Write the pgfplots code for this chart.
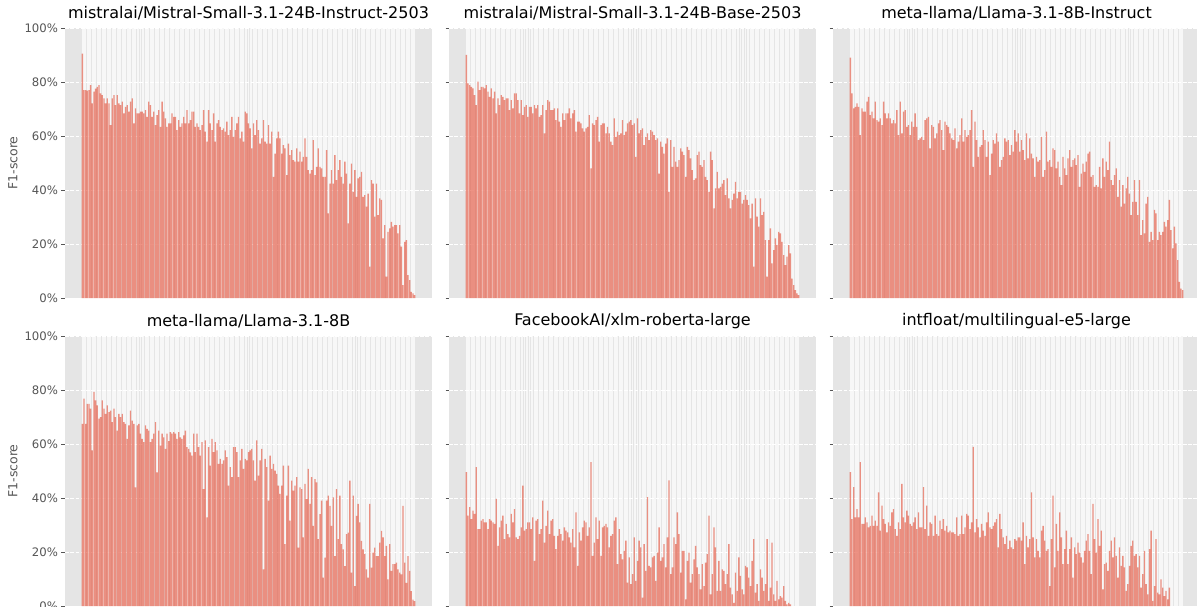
\documentclass[border=0pt]{standalone}
\usepackage{fontspec}
\setmainfont{DejaVu Sans}
\usepackage{pgfplots}
\usepackage{pgfplotstable}
\pgfplotsset{compat=1.18}
\definecolor{ggred}{HTML}{E24A33}
\definecolor{ggbg}{HTML}{E5E5E5}
\definecolor{ggtext}{HTML}{555555}

\pgfplotstableread[row sep=\\]{v\\
90.5\\ 77.0\\ 77.0\\ 76.8\\ 77.0\\ 78.8\\ 72.1\\ 76.4\\ 77.5\\ 78.2\\ 78.8\\ 75.8\\ 75.1\\ 73.9\\ 72.1\\ 73.9\\ 72.1\\ 64.0\\ 73.9\\ 75.1\\ 71.4\\ 75.1\\ 72.1\\ 71.4\\ 72.7\\ 68.4\\ 70.8\\ 71.4\\ 69.0\\ 72.7\\ 73.9\\ 64.7\\ 70.2\\ 68.4\\ 68.4\\ 69.0\\ 69.0\\ 68.4\\ 69.6\\ 67.1\\ 72.7\\ 71.4\\ 67.1\\ 69.0\\ 64.0\\ 67.7\\ 69.6\\ 63.4\\ 72.7\\ 69.0\\ 66.5\\ 63.4\\ 64.7\\ 64.7\\ 68.4\\ 67.1\\ 67.1\\ 62.2\\ 65.9\\ 63.4\\ 64.7\\ 67.1\\ 64.7\\ 69.6\\ 64.7\\ 65.9\\ 69.0\\ 69.0\\ 63.4\\ 64.7\\ 63.4\\ 62.2\\ 64.0\\ 69.6\\ 61.6\\ 57.9\\ 69.6\\ 64.7\\ 62.2\\ 68.4\\ 57.9\\ 64.7\\ 65.9\\ 63.4\\ 62.2\\ 62.8\\ 61.6\\ 65.3\\ 60.3\\ 62.2\\ 67.1\\ 59.7\\ 62.2\\ 64.7\\ 67.1\\ 59.1\\ 61.6\\ 57.9\\ 69.0\\ 68.4\\ 64.7\\ 62.8\\ 55.4\\ 64.7\\ 60.3\\ 65.9\\ 62.2\\ 57.2\\ 59.1\\ 65.9\\ 57.9\\ 57.2\\ 64.0\\ 57.2\\ 61.6\\ 44.9\\ 53.5\\ 59.1\\ 61.6\\ 59.1\\ 53.5\\ 56.6\\ 55.4\\ 45.5\\ 57.2\\ 52.9\\ 54.8\\ 51.1\\ 50.5\\ 55.4\\ 50.5\\ 54.2\\ 50.5\\ 52.3\\ 59.1\\ 52.3\\ 47.4\\ 46.1\\ 47.4\\ 58.5\\ 45.5\\ 48.6\\ 55.4\\ 48.6\\ 48.0\\ 44.9\\ 44.9\\ 54.8\\ 31.3\\ 42.4\\ 47.4\\ 42.4\\ 52.9\\ 43.7\\ 47.4\\ 51.1\\ 44.9\\ 42.4\\ 50.5\\ 46.1\\ 27.6\\ 42.4\\ 49.8\\ 39.3\\ 47.4\\ 37.5\\ 44.3\\ 44.9\\ 46.7\\ 37.5\\ 38.1\\ 33.8\\ 38.7\\ 11.6\\ 43.7\\ 42.4\\ 30.1\\ 42.4\\ 30.7\\ 36.9\\ 36.3\\ 22.1\\ 27.0\\ 7.9\\ 24.5\\ 25.8\\ 28.2\\ 26.4\\ 27.0\\ 27.0\\ 23.9\\ 27.0\\ 19.0\\ 4.8\\ 20.8\\ 21.4\\ 8.5\\ 6.6\\ 2.3\\ 1.7\\ 1.1\\
}\dataA

\pgfplotstableread[row sep=\\]{v\\
90.0\\ 79.5\\ 78.8\\ 78.2\\ 77.6\\ 75.1\\ 71.4\\ 80.1\\ 77.0\\ 78.2\\ 78.2\\ 77.6\\ 78.8\\ 76.4\\ 74.5\\ 77.6\\ 73.9\\ 76.4\\ 68.4\\ 73.9\\ 71.4\\ 75.1\\ 74.5\\ 73.3\\ 73.9\\ 73.9\\ 69.6\\ 73.3\\ 70.2\\ 75.8\\ 75.8\\ 73.3\\ 68.4\\ 73.3\\ 67.7\\ 70.8\\ 71.4\\ 67.1\\ 70.8\\ 70.8\\ 68.4\\ 71.4\\ 70.2\\ 71.4\\ 67.1\\ 67.7\\ 71.4\\ 61.0\\ 69.6\\ 73.3\\ 72.7\\ 69.6\\ 69.6\\ 70.2\\ 65.9\\ 70.2\\ 65.3\\ 63.4\\ 68.4\\ 65.9\\ 68.4\\ 68.4\\ 70.2\\ 66.5\\ 68.4\\ 69.6\\ 61.6\\ 65.3\\ 65.3\\ 64.7\\ 62.8\\ 61.6\\ 62.8\\ 63.4\\ 67.7\\ 48.0\\ 64.7\\ 64.0\\ 65.9\\ 67.1\\ 57.9\\ 64.0\\ 64.7\\ 64.7\\ 61.0\\ 63.4\\ 61.0\\ 57.9\\ 56.6\\ 66.5\\ 59.7\\ 61.6\\ 60.3\\ 61.0\\ 65.9\\ 60.3\\ 61.6\\ 64.7\\ 65.3\\ 65.9\\ 64.0\\ 64.7\\ 52.3\\ 66.5\\ 61.0\\ 62.2\\ 62.8\\ 56.6\\ 59.7\\ 61.0\\ 58.5\\ 62.2\\ 61.6\\ 60.3\\ 58.5\\ 59.1\\ 46.1\\ 57.9\\ 56.0\\ 53.5\\ 57.2\\ 59.1\\ 39.3\\ 58.5\\ 48.6\\ 56.0\\ 50.5\\ 48.6\\ 51.1\\ 55.4\\ 54.2\\ 52.9\\ 44.9\\ 56.0\\ 54.8\\ 51.7\\ 47.4\\ 43.7\\ 44.3\\ 52.9\\ 54.2\\ 49.2\\ 48.6\\ 51.1\\ 44.9\\ 43.7\\ 39.3\\ 54.2\\ 51.1\\ 33.2\\ 40.6\\ 46.7\\ 40.6\\ 41.2\\ 42.4\\ 43.7\\ 38.1\\ 44.3\\ 36.9\\ 33.2\\ 36.3\\ 38.7\\ 43.0\\ 36.9\\ 39.3\\ 39.3\\ 35.0\\ 36.3\\ 38.1\\ 36.3\\ 34.4\\ 29.5\\ 35.0\\ 11.6\\ 36.9\\ 30.1\\ 26.4\\ 36.9\\ 30.7\\ 31.9\\ 21.4\\ 7.9\\ 21.4\\ 25.8\\ 12.8\\ 17.7\\ 22.1\\ 19.6\\ 24.5\\ 23.9\\ 20.8\\ 15.9\\ 12.2\\ 15.3\\ 19.6\\ 16.5\\ 7.2\\ 4.8\\ 2.9\\ 1.7\\ 1.1\\
}\dataB

\pgfplotstableread[row sep=\\]{v\\
89.0\\ 75.8\\ 70.2\\ 70.8\\ 72.1\\ 70.8\\ 60.3\\ 70.2\\ 69.0\\ 69.0\\ 72.7\\ 74.5\\ 67.7\\ 69.0\\ 66.5\\ 72.7\\ 65.9\\ 65.3\\ 66.5\\ 64.0\\ 72.7\\ 68.4\\ 66.5\\ 68.4\\ 66.5\\ 64.7\\ 65.9\\ 64.7\\ 69.6\\ 60.3\\ 72.7\\ 61.0\\ 69.0\\ 69.6\\ 63.4\\ 64.0\\ 60.3\\ 65.3\\ 63.4\\ 68.4\\ 63.4\\ 58.5\\ 59.1\\ 59.7\\ 58.5\\ 65.9\\ 66.5\\ 67.1\\ 55.4\\ 64.0\\ 63.4\\ 59.1\\ 61.0\\ 64.7\\ 65.9\\ 62.2\\ 54.8\\ 65.3\\ 64.0\\ 63.4\\ 61.0\\ 59.1\\ 58.5\\ 62.8\\ 55.4\\ 57.9\\ 60.3\\ 66.5\\ 57.9\\ 62.2\\ 59.7\\ 60.3\\ 62.2\\ 69.6\\ 48.6\\ 65.3\\ 58.5\\ 52.3\\ 56.0\\ 56.6\\ 62.2\\ 58.5\\ 52.3\\ 57.9\\ 45.5\\ 53.5\\ 58.5\\ 57.2\\ 61.0\\ 57.9\\ 48.6\\ 51.1\\ 52.3\\ 59.1\\ 57.9\\ 58.5\\ 52.9\\ 56.6\\ 54.2\\ 62.2\\ 57.9\\ 61.0\\ 54.2\\ 58.5\\ 54.8\\ 51.1\\ 61.0\\ 51.7\\ 59.1\\ 53.5\\ 51.7\\ 44.9\\ 52.3\\ 50.5\\ 51.1\\ 59.7\\ 44.9\\ 47.4\\ 61.6\\ 50.5\\ 51.1\\ 48.6\\ 55.4\\ 54.8\\ 48.0\\ 50.5\\ 44.9\\ 41.8\\ 52.3\\ 48.0\\ 45.5\\ 51.7\\ 54.8\\ 48.6\\ 51.1\\ 51.7\\ 49.2\\ 52.9\\ 41.2\\ 46.1\\ 49.8\\ 46.7\\ 50.5\\ 53.5\\ 54.2\\ 44.9\\ 45.5\\ 41.2\\ 41.8\\ 41.2\\ 48.6\\ 40.6\\ 51.7\\ 44.9\\ 50.5\\ 47.4\\ 57.9\\ 43.7\\ 41.8\\ 45.5\\ 48.0\\ 37.5\\ 43.7\\ 33.8\\ 41.8\\ 35.0\\ 40.6\\ 44.9\\ 38.7\\ 30.7\\ 35.6\\ 43.7\\ 35.6\\ 30.7\\ 43.7\\ 23.3\\ 28.8\\ 23.9\\ 35.0\\ 37.5\\ 20.8\\ 24.5\\ 21.4\\ 32.6\\ 31.3\\ 21.4\\ 24.5\\ 23.3\\ 24.5\\ 28.2\\ 26.4\\ 28.8\\ 36.3\\ 25.1\\ 18.4\\ 26.4\\ 20.2\\ 14.0\\ 6.0\\ 3.5\\ 2.9\\
}\dataC

\pgfplotstableread[row sep=\\]{v\\
67.5\\ 76.8\\ 67.5\\ 74.9\\ 74.9\\ 73.1\\ 57.6\\ 79.3\\ 76.2\\ 74.3\\ 69.4\\ 70.0\\ 76.2\\ 73.1\\ 71.2\\ 74.3\\ 71.8\\ 72.4\\ 68.1\\ 73.1\\ 70.0\\ 65.0\\ 71.2\\ 70.0\\ 71.2\\ 68.1\\ 67.5\\ 61.9\\ 66.9\\ 72.4\\ 68.7\\ 67.5\\ 43.9\\ 66.9\\ 67.5\\ 63.8\\ 61.9\\ 60.7\\ 66.9\\ 65.6\\ 65.0\\ 60.7\\ 61.9\\ 63.8\\ 68.1\\ 49.5\\ 65.0\\ 59.4\\ 63.8\\ 62.5\\ 58.2\\ 63.8\\ 61.1\\ 64.4\\ 63.8\\ 64.4\\ 63.8\\ 61.9\\ 64.4\\ 62.5\\ 61.9\\ 63.2\\ 65.0\\ 58.8\\ 58.2\\ 56.9\\ 55.7\\ 63.8\\ 57.0\\ 63.8\\ 58.8\\ 55.7\\ 60.7\\ 43.3\\ 61.3\\ 32.8\\ 58.8\\ 52.0\\ 61.9\\ 57.0\\ 60.7\\ 57.6\\ 52.6\\ 54.5\\ 52.6\\ 53.9\\ 57.6\\ 55.1\\ 44.6\\ 51.4\\ 47.7\\ 58.8\\ 58.8\\ 57.0\\ 47.7\\ 53.9\\ 58.2\\ 50.8\\ 54.5\\ 53.9\\ 57.0\\ 57.6\\ 58.2\\ 53.9\\ 46.4\\ 61.3\\ 48.3\\ 53.9\\ 58.2\\ 13.6\\ 54.5\\ 51.4\\ 39.0\\ 55.7\\ 50.8\\ 52.6\\ 50.1\\ 48.9\\ 44.6\\ 41.5\\ 44.6\\ 52.0\\ 22.9\\ 40.9\\ 52.0\\ 31.6\\ 46.4\\ 42.7\\ 44.6\\ 47.7\\ 21.6\\ 43.9\\ 43.3\\ 25.4\\ 45.2\\ 39.6\\ 50.8\\ 37.8\\ 47.7\\ 29.7\\ 47.0\\ 45.8\\ 24.8\\ 34.0\\ 39.0\\ 10.5\\ 17.9\\ 39.0\\ 40.9\\ 37.1\\ 29.7\\ 40.2\\ 18.5\\ 43.3\\ 24.8\\ 40.9\\ 22.9\\ 21.0\\ 14.8\\ 26.6\\ 27.2\\ 46.4\\ 12.4\\ 40.9\\ 7.4\\ 33.4\\ 37.8\\ 31.0\\ 24.1\\ 21.0\\ 19.2\\ 13.6\\ 10.5\\ 37.8\\ 14.2\\ 19.8\\ 21.6\\ 18.5\\ 18.5\\ 23.5\\ 27.8\\ 25.4\\ 18.5\\ 22.3\\ 9.9\\ 22.9\\ 13.0\\ 15.5\\ 15.5\\ 16.1\\ 13.6\\ 12.4\\ 11.7\\ 37.1\\ 16.1\\ 8.6\\ 18.5\\ 13.0\\ 5.5\\ 2.4\\ 1.8\\
}\dataD

\pgfplotstableread[row sep=\\]{v\\
49.6\\ 33.5\\ 36.6\\ 32.2\\ 35.3\\ 34.1\\ 51.4\\ 28.5\\ 28.5\\ 31.6\\ 32.2\\ 31.0\\ 31.0\\ 28.5\\ 32.2\\ 31.6\\ 31.0\\ 30.4\\ 39.7\\ 22.3\\ 29.1\\ 31.6\\ 33.5\\ 24.8\\ 30.4\\ 26.6\\ 25.4\\ 34.1\\ 31.0\\ 35.9\\ 25.4\\ 24.8\\ 26.0\\ 29.1\\ 44.6\\ 27.9\\ 28.5\\ 31.0\\ 31.0\\ 28.5\\ 32.8\\ 16.7\\ 31.6\\ 32.2\\ 26.6\\ 28.5\\ 39.0\\ 23.5\\ 29.7\\ 35.3\\ 26.6\\ 31.6\\ 32.2\\ 26.0\\ 21.1\\ 26.0\\ 28.5\\ 26.6\\ 24.2\\ 29.1\\ 27.9\\ 27.3\\ 25.4\\ 23.5\\ 28.5\\ 21.7\\ 34.7\\ 14.9\\ 27.3\\ 24.2\\ 29.1\\ 31.6\\ 31.0\\ 26.0\\ 29.1\\ 53.3\\ 18.6\\ 23.5\\ 32.8\\ 24.8\\ 31.6\\ 18.6\\ 29.1\\ 29.7\\ 30.4\\ 29.1\\ 21.7\\ 26.0\\ 26.6\\ 31.6\\ 32.8\\ 15.5\\ 28.5\\ 19.2\\ 17.3\\ 20.4\\ 24.2\\ 8.7\\ 18.0\\ 8.1\\ 11.8\\ 25.4\\ 9.3\\ 16.7\\ 24.2\\ 21.7\\ 3.1\\ 22.9\\ 13.0\\ 40.3\\ 14.9\\ 14.3\\ 18.0\\ 18.6\\ 9.3\\ 19.8\\ 29.1\\ 16.7\\ 18.0\\ 22.9\\ 14.3\\ 25.4\\ 46.5\\ 11.8\\ 14.3\\ 25.4\\ 22.9\\ 34.7\\ 26.6\\ 12.4\\ 20.4\\ 20.4\\ 2.5\\ 16.7\\ 19.8\\ 8.7\\ 11.8\\ 17.3\\ 22.3\\ 14.3\\ 11.8\\ 6.2\\ 15.5\\ 7.4\\ 16.1\\ 19.2\\ 33.5\\ 4.3\\ 11.8\\ 29.1\\ 21.7\\ 5.6\\ 16.7\\ 5.6\\ 13.6\\ 13.0\\ 8.1\\ 11.8\\ 22.9\\ 6.8\\ 4.3\\ 1.2\\ 12.4\\ 5.6\\ 18.0\\ 11.2\\ 6.2\\ 4.3\\ 14.9\\ 14.3\\ 10.5\\ 7.4\\ 16.7\\ 24.8\\ 5.0\\ 8.1\\ 1.9\\ 13.6\\ 10.5\\ 5.6\\ 8.1\\ 24.8\\ 1.9\\ 6.8\\ 23.5\\ 4.3\\ 1.9\\ 9.3\\ 2.5\\ 3.7\\ 3.1\\ 7.4\\ 1.9\\ 0.6\\ 1.2\\ 0.6\\
}\dataE

\pgfplotstableread[row sep=\\]{v\\
49.6\\ 32.2\\ 44.0\\ 32.8\\ 35.9\\ 32.8\\ 53.3\\ 30.4\\ 30.4\\ 32.8\\ 31.0\\ 29.1\\ 29.7\\ 33.5\\ 29.7\\ 31.6\\ 29.7\\ 42.1\\ 27.9\\ 37.2\\ 32.2\\ 30.4\\ 27.3\\ 31.0\\ 29.7\\ 34.7\\ 35.9\\ 28.5\\ 26.0\\ 31.0\\ 28.5\\ 45.2\\ 32.8\\ 31.0\\ 35.3\\ 33.5\\ 30.4\\ 29.7\\ 31.0\\ 32.8\\ 28.5\\ 34.7\\ 29.1\\ 29.1\\ 44.0\\ 28.5\\ 37.2\\ 26.0\\ 31.0\\ 30.4\\ 26.0\\ 33.5\\ 26.6\\ 26.0\\ 31.6\\ 28.5\\ 32.2\\ 27.9\\ 29.7\\ 27.3\\ 27.9\\ 27.3\\ 27.3\\ 26.6\\ 32.8\\ 26.0\\ 26.6\\ 33.5\\ 26.6\\ 29.1\\ 34.1\\ 33.5\\ 28.5\\ 31.0\\ 58.9\\ 27.3\\ 32.2\\ 29.1\\ 25.4\\ 30.4\\ 27.9\\ 26.0\\ 31.0\\ 34.7\\ 29.1\\ 28.5\\ 29.7\\ 31.0\\ 32.2\\ 21.7\\ 34.1\\ 28.5\\ 25.4\\ 22.9\\ 26.0\\ 21.1\\ 24.2\\ 21.7\\ 21.1\\ 24.8\\ 24.2\\ 25.4\\ 25.4\\ 24.2\\ 31.0\\ 15.5\\ 26.0\\ 21.7\\ 24.8\\ 42.1\\ 25.4\\ 18.0\\ 24.8\\ 20.4\\ 18.0\\ 27.9\\ 29.7\\ 24.2\\ 20.4\\ 21.1\\ 7.4\\ 24.8\\ 40.9\\ 14.3\\ 30.4\\ 20.4\\ 34.7\\ 25.4\\ 15.5\\ 21.1\\ 27.9\\ 15.5\\ 21.1\\ 25.4\\ 10.5\\ 21.7\\ 19.2\\ 23.5\\ 19.8\\ 18.0\\ 16.1\\ 20.4\\ 24.2\\ 26.6\\ 20.4\\ 11.8\\ 37.8\\ 24.8\\ 19.8\\ 32.2\\ 22.3\\ 27.9\\ 6.2\\ 15.5\\ 16.1\\ 13.0\\ 20.4\\ 24.2\\ 18.0\\ 25.4\\ 18.6\\ 10.5\\ 21.7\\ 14.9\\ 18.6\\ 14.3\\ 5.6\\ 8.1\\ 14.9\\ 22.3\\ 24.2\\ 18.6\\ 19.2\\ 14.3\\ 18.6\\ 6.8\\ 11.8\\ 20.4\\ 8.1\\ 4.3\\ 21.1\\ 27.9\\ 1.9\\ 7.4\\ 24.8\\ 5.0\\ 4.3\\ 9.9\\ 6.8\\ 3.7\\ 5.6\\ 2.5\\ 6.8\\
}\dataF

\pgfplotsset{
  panel/.style={
    scale only axis, width=367pt, height=270pt,
    xmin=-10.44, xmax=210.44, ymin=0, ymax=100,
    axis background/.style={fill=ggbg},
    axis line style={draw=none},
    xtick={0,...,200}, xticklabels={},
    xtick style={draw=none},
    xmajorgrids, x grid style={color=white, opacity=0.72, line width=1.3pt},
    ytick={0,20,...,100},
    yticklabels={0\%,20\%,40\%,60\%,80\%,100\%},
    ymajorgrids, y grid style={white, line width=0.9pt, dash pattern=on 3.7pt off 1.6pt},
    ytick pos=left,
    tick align=outside,
    major tick length=3.5pt,
    ytick style={draw=ggtext, line width=0.8pt},
    yticklabel style={font=\fontsize{11.7}{14}\selectfont, text=ggtext},
    title style={font=\fontsize{16}{19}\selectfont, yshift=-2pt},
    ylabel style={font=\fontsize{12.5}{15}\selectfont, text=ggtext},
  },
  nolab/.style={yticklabels={}},
  bars/.style={ybar, bar width=0.8, bar shift=0pt, fill=ggred, fill opacity=0.6, draw=none},
}

\begin{document}
\begin{tikzpicture}
\useasboundingbox (0,0) rectangle (1197pt,-607pt);
\begin{axis}[panel, at={(65pt,-28pt)}, anchor=north west,
  title={mistralai/Mistral-Small-3.1-24B-Instruct-2503}, ylabel={F1-score}]
\addplot[bars] table[x expr=\coordindex, y=v] {\dataA};
\end{axis}
\begin{axis}[panel, nolab, at={(449pt,-28pt)}, anchor=north west,
  title={mistralai/Mistral-Small-3.1-24B-Base-2503}]
\addplot[bars] table[x expr=\coordindex, y=v] {\dataB};
\end{axis}
\begin{axis}[panel, nolab, at={(833pt,-28pt)}, anchor=north west,
  title={meta-llama/Llama-3.1-8B-Instruct}]
\addplot[bars] table[x expr=\coordindex, y=v] {\dataC};
\end{axis}
\begin{axis}[panel, at={(65pt,-336pt)}, anchor=north west,
  title={meta-llama/Llama-3.1-8B}, ylabel={F1-score}]
\addplot[bars] table[x expr=\coordindex, y=v] {\dataD};
\end{axis}
\begin{axis}[panel, nolab, at={(449pt,-336pt)}, anchor=north west,
  title={FacebookAI/xlm-roberta-large}]
\addplot[bars] table[x expr=\coordindex, y=v] {\dataE};
\end{axis}
\begin{axis}[panel, nolab, at={(833pt,-336pt)}, anchor=north west,
  title={intfloat/multilingual-e5-large}]
\addplot[bars] table[x expr=\coordindex, y=v] {\dataF};
\end{axis}
\end{tikzpicture}
\end{document}
